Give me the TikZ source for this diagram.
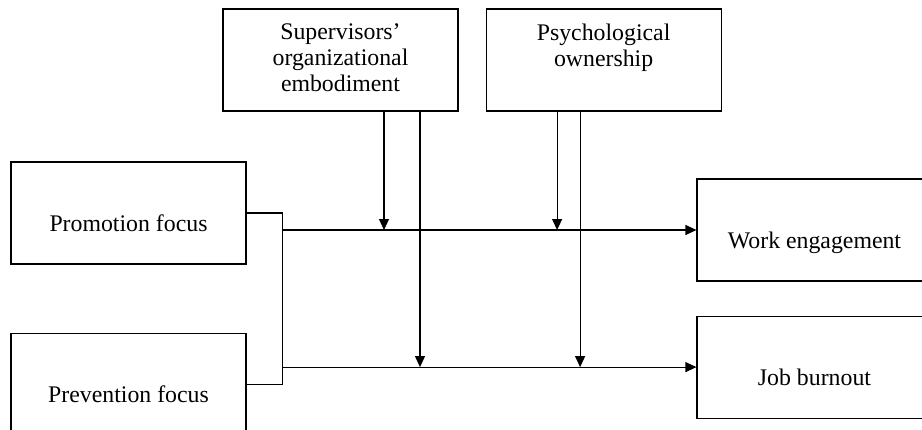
\documentclass[tikz,border=0pt]{standalone}
\usepackage{fontspec}
\setmainfont{Liberation Serif}
\usetikzlibrary{positioning,arrows.meta}
\newcommand{\boxfont}{\fontsize{23.8pt}{26pt}\selectfont}
\tikzset{
    box/.style={draw, line width=1.1pt, minimum width=235pt, minimum height=102pt, inner sep=0pt},
    mid/.style={label={[text height=16pt, text depth=0pt, yshift=-10pt, font=\boxfont]center:#1}},
    top/.style={label={[align=center, anchor=north, inner sep=0pt, yshift=-15pt, font=\boxfont]north:#1}},
    link/.style={line width=1.1pt},
    arr/.style={link, -{Triangle[length=11pt, width=10pt]}}
}
\begin{document}
\begin{tikzpicture}[x=1pt, y=-1pt]
    \useasboundingbox (0,0) rectangle (922,429);
    \node[box, mid=Promotion focus] (pro) at (128.5,213) {};
    \node[box, mid=Prevention focus, below=68pt of pro] (pre) {};
    \node[box, top={Supervisors'\\organizational\\embodiment}] (sup) at (340.5,60) {};
    \node[box, top={Psychological\\ownership}, right=27pt of sup] (own) {};
    \node[box, mid=Work engagement] (eng) at (814.5,230) {};
    \node[box, mid=Job burnout, below=34pt of eng] (bur) {};
    \draw[link] (pro.east) -- ++(36,0) coordinate (fork) |- (pre.east);
    \draw[arr] (fork |- eng.west) -- (eng.west);
    \draw[arr] (fork |- bur.west) -- (bur.west);
    \draw[arr] ([xshift=43.5pt]sup.south) -- ([xshift=43.5pt]sup.south |- eng.west);
    \draw[arr] ([xshift=79.5pt]sup.south) -- ([xshift=79.5pt]sup.south |- bur.west);
    \draw[arr] ([xshift=-46.5pt]own.south) -- ([xshift=-46.5pt]own.south |- eng.west);
    \draw[arr] ([xshift=-23.5pt]own.south) -- ([xshift=-23.5pt]own.south |- bur.west);
\end{tikzpicture}
\end{document}
